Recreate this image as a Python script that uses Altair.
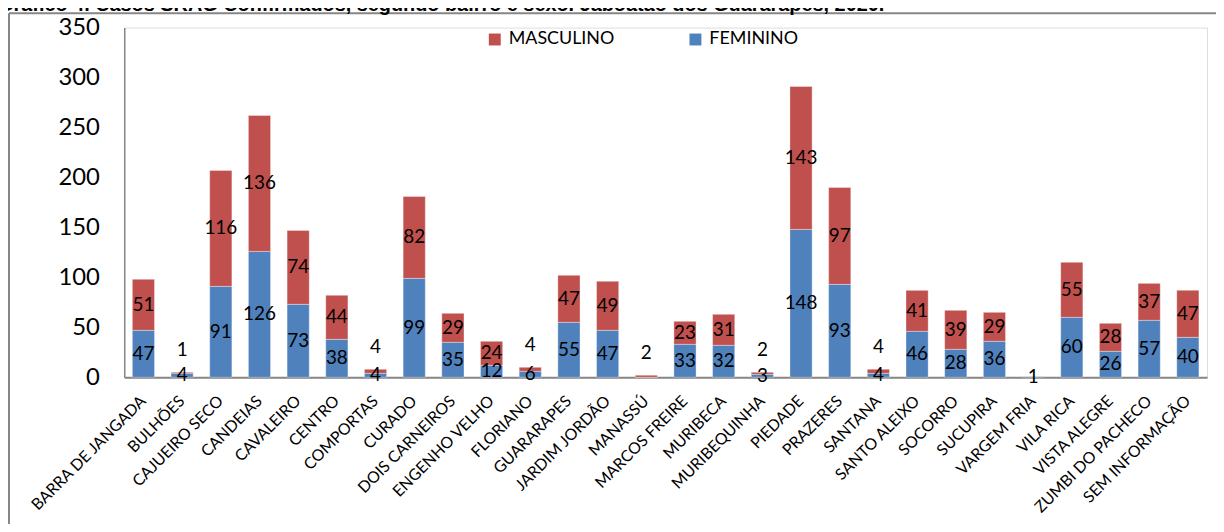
import altair as alt
import pandas as pd

bairros = ["BARRA DE JANGADA", "BULHÕES", "CAJUEIRO SECO", "CANDEIAS", "CAVALEIRO",
           "CENTRO", "COMPORTAS", "CURADO", "DOIS CARNEIROS", "ENGENHO VELHO",
           "FLORIANO", "GUARARAPES", "JARDIM JORDÃO", "MANASSÚ", "MARCOS FREIRE",
           "MURIBECA", "MURIBEQUINHA", "PIEDADE", "PRAZERES", "SANTANA",
           "SANTO ALEIXO", "SOCORRO", "SUCUPIRA", "VARGEM FRIA", "VILA RICA",
           "VISTA ALEGRE", "ZUMBI DO PACHECO", "SEM INFORMAÇÃO"]
feminino = [47, 4, 91, 126, 73, 38, 4, 99, 35, 12, 6, 55, 47, 0, 33, 32, 3, 148, 93, 4,
            46, 28, 36, 1, 60, 26, 57, 40]
masculino = [51, 1, 116, 136, 74, 44, 4, 82, 29, 24, 4, 47, 49, 2, 23, 31, 2, 143, 97, 4,
             41, 39, 29, 0, 55, 28, 37, 47]
series = ["MASCULINO", "FEMININO"]
colors = ["#C0504D", "#4F81BD"]
title_text = "Gráfico 4. Casos SRAG Confirmados, segundo bairro e sexo. Jaboatão dos Guararapes, 2020."

rows = []
for b, f, m in zip(bairros, feminino, masculino):
    rows.append({"bairro": b, "sexo": "FEMININO", "casos": f, "ord": 0,
                 "label_y": f / 2})
    total = f + m
    ly = total + 22 if total < 12 else f + m / 2
    rows.append({"bairro": b, "sexo": "MASCULINO", "casos": m, "ord": 1,
                 "label_y": ly})
df = pd.DataFrame(rows)

FONT = "Lato"

x_enc = alt.X("bairro:N", sort=bairros, title=None,
              scale=alt.Scale(paddingInner=0.427, paddingOuter=0.21),
              axis=alt.Axis(labelAngle=315, labelFont=FONT, labelFontSize=16,
                            labelColor="black", ticks=False, labelPadding=21,
                            domainColor="#868686", domainWidth=2,
                            labelOverlap=False, labelLimit=400, labelAlign="right",
                            labelBaseline="middle"))

bars = alt.Chart(df).mark_bar(stroke="white", strokeOpacity=0.35, strokeWidth=1).encode(
    x=x_enc,
    y=alt.Y("casos:Q", stack="zero", title=None,
            scale=alt.Scale(domain=[0, 350], nice=False),
            axis=alt.Axis(values=list(range(0, 351, 50)), grid=False, ticks=False,
                          labelFont=FONT, labelFontSize=24, labelColor="black",
                          labelPadding=25, domainColor="#868686", domainWidth=1.5)),
    color=alt.Color("sexo:N", scale=alt.Scale(domain=series, range=colors),
                    legend=alt.Legend(title=None, orient="none", direction="horizontal",
                                      legendX=364, legendY=3, symbolType="square",
                                      symbolSize=144, symbolStrokeWidth=0,
                                      labelFont=FONT, labelFontSize=18,
                                      labelColor="black", labelOffset=5,
                                      columnPadding=72, padding=0)),
    order=alt.Order("ord:Q", sort="ascending"),
)

labels = alt.Chart(df).transform_filter("datum.casos > 0").mark_text(
    font=FONT, fontSize=19, color="black", baseline="middle", align="center"
).encode(
    x=alt.X("bairro:N", sort=bairros),
    y=alt.Y("label_y:Q"),
    text=alt.Text("casos:Q"),
)

frame_left = alt.Chart(df.head(1)).mark_rule(color="#868686", strokeWidth=2).encode(
    x=alt.value(-116), y=alt.value(-14.5), y2=alt.value(520))
frame_top = alt.Chart(df.head(1)).mark_rule(color="#868686", strokeWidth=2).encode(
    x=alt.value(-116), x2=alt.value(1200), y=alt.value(-14.5))
title = alt.Chart(pd.DataFrame({"t": [title_text]})).mark_text(
    font="Liberation Sans", fontWeight="bold", fontSize=20, color="black",
    align="left", baseline="alphabetic"
).encode(x=alt.value(-127), y=alt.value(-17), text="t:N")

chart = alt.layer(bars, labels, frame_left, frame_top, title).properties(
    width=1090, height=352,
    padding={"left": 117, "top": 18, "right": 9, "bottom": 146},
    autosize=alt.AutoSizeParams(type="none"),
).configure_view(stroke=None).configure(background="white")

chart.save("out.html", embed_options={"renderer": "svg", "actions": False})
